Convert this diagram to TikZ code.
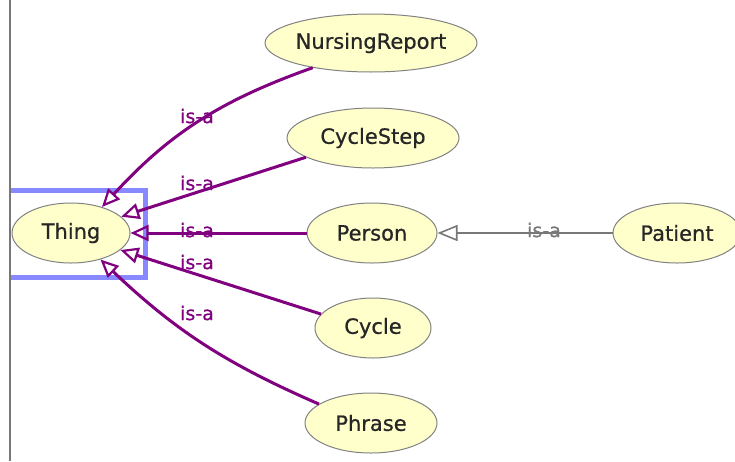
\documentclass[tikz,border=0pt]{standalone}
\usepackage{fontspec}
\setmainfont{DejaVu Sans}
\newfontfamily\medfont{DejaVu Sans}[FakeBold=0.7]
\usetikzlibrary{shapes.geometric,arrows.meta}
\definecolor{isapurple}{RGB}{128,0,128}
\definecolor{nodefill}{RGB}{255,255,204}
\definecolor{nodeline}{RGB}{130,130,130}
\definecolor{selblue}{RGB}{136,136,255}
\definecolor{subgray}{RGB}{120,120,120}
\tikzset{
  cls/.style={ellipse, draw=nodeline, line width=1pt, fill=nodefill,
    inner xsep=-5pt, inner ysep=0pt, minimum height=60pt,
    font=\medfont\fontsize{21}{24}\selectfont, text=black!85},
  isa/.style={draw=isapurple, line width=3pt,
    -{Triangle[open, length=18pt, width=16pt, line width=2.2pt]}},
  isagray/.style={draw=subgray, line width=1.6pt,
    -{Triangle[open, length=20pt, width=16pt, line width=1.6pt]}},
  isalbl/.style={text=isapurple, inner sep=0pt, font=\medfont\fontsize{19}{22}\selectfont},
  isalblgray/.style={text=subgray, inner sep=0pt, font=\medfont\fontsize{19}{22}\selectfont},
}
\begin{document}
\begin{tikzpicture}[x=1pt,y=1pt]
\useasboundingbox (0,0) rectangle (735,-461);
\fill[white] (0,0) rectangle (735,-461);
% left border line
\draw[subgray, line width=2pt] (10,0) -- (10,-461);
% selection rectangle
\draw[selblue, line width=5pt] (11,-190) -- (145,-190) -- (145,-277) -- (11,-277);
% nodes
\node[cls, minimum width=118pt] (Thing) at (71,-233) {Thing};
\node[cls, minimum width=212pt, minimum height=58pt] (NursingReport) at (371,-43) {NursingReport};
\node[cls, minimum width=172pt] (CycleStep) at (373,-138) {CycleStep};
\node[cls, minimum width=130pt] (Person) at (372,-233) {Person};
\node[cls, minimum width=128pt] (Patient) at (677,-233) {Patient};
\node[cls, minimum width=116pt] (Cycle) at (373,-328) {Cycle};
\node[cls, minimum width=132pt] (Phrase) at (371,-423) {Phrase};
% edges
\draw[isa] (NursingReport.203) to[bend right=14] (Thing.40);
\draw[isa] (CycleStep.196) -- (Thing.18);
\draw[isa] (Person.west) -- (Thing.east);
\draw[isa] (Cycle.165) -- (Thing.341);
\draw[isa] (Phrase.160) to[bend left=10] (Thing.318);
\draw[isagray] (Patient.west) -- (Person.east);
% labels
\node[isalbl] (l1) at (197,-116) {is-a};
\node[isalbl] (l2) at (197,-183) {is-a};
\node[isalbl] (l3) at (197,-230) {is-a};
\node[isalbl] (l4) at (197,-262) {is-a};
\node[isalbl] (l5) at (197,-313) {is-a};
\node[isalblgray] (l6) at (544,-230) {is-a};
\end{tikzpicture}
\end{document}
